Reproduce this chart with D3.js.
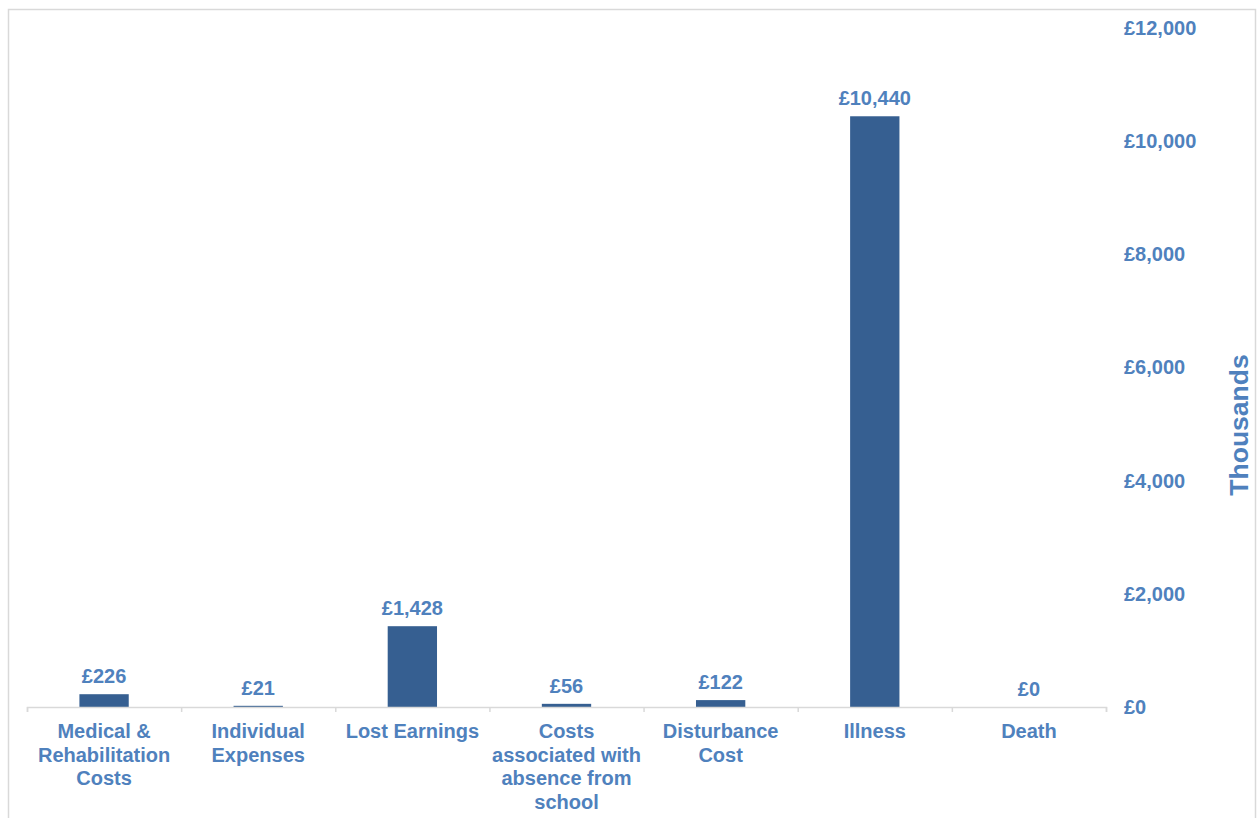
<!DOCTYPE html>
<html>
<head>
<meta charset="utf-8">
<script src="https://cdn.jsdelivr.net/npm/d3@7"></script>
<style>
	body { margin: 0; background: #fff; }
	svg { display: block; font-family: "Liberation Sans", Arial, sans-serif; font-weight: bold; }
</style>
</head>
<body>
<svg id="chart" width="1260" height="818"></svg>
<script>
// costs by category, in £ thousands
var categories = ["Medical &\nRehabilitation\nCosts", "Individual\nExpenses", "Lost Earnings",
	"Costs\nassociated with\nabsence from\nschool", "Disturbance\nCost", "Illness", "Death"];
var costs = [226, 21, 1428, 56, 122, 10440, 0];
var yTicks = [0, 2000, 4000, 6000, 8000, 10000, 12000];
var axisTitle = "Thousands";

(function() {
	var svg = d3.select("#chart");
	var labelColor = "#4f81bd", barColor = "#365f91", lineColor = "#d9d9d9";
	var left = 27, right = 1106, top = 28, bottom = 707;

	var fmt = function(d) { return "£" + d3.format(",")(d); };

	// outer frame
	svg.append("rect").attr("x", 8.5).attr("y", 9.5).attr("width", 1247).attr("height", 830)
		.attr("fill", "none").attr("stroke", lineColor).attr("stroke-width", 1.5);

	var x = d3.scaleBand().domain(categories).range([left, right])
		.paddingInner(0.68).paddingOuter(0.34);
	var y = d3.scaleLinear().domain([0, 12000]).range([bottom, top]);

	// bars
	svg.selectAll(".bar").data(costs).enter().append("rect").attr("class", "bar")
		.attr("x", function(d, i) { return x(categories[i]); })
		.attr("y", function(d) { return y(d); })
		.attr("width", x.bandwidth())
		.attr("height", function(d) { return bottom - y(d); })
		.attr("fill", barColor);

	// value labels
	svg.selectAll(".val").data(costs).enter().append("text").attr("class", "val")
		.attr("x", function(d, i) { return x(categories[i]) + x.bandwidth() / 2; })
		.attr("y", function(d) { return y(d) - 11; })
		.attr("text-anchor", "middle").attr("font-size", 20).attr("fill", labelColor)
		.text(fmt);

	// x axis with tick marks between categories
	var xb = d3.scaleLinear().domain([0, categories.length]).range([left, right]);
	var gx = svg.append("g").attr("transform", "translate(0," + bottom + ")")
		.call(d3.axisBottom(xb).ticks(categories.length).tickSizeInner(5).tickSizeOuter(5).tickFormat(""));
	gx.selectAll("path, line").attr("stroke", lineColor).attr("stroke-width", 1.5);

	// category labels
	svg.selectAll(".cat").data(categories).enter().append("text").attr("class", "cat")
		.attr("x", function(d) { return x(d) + x.bandwidth() / 2; })
		.attr("y", bottom + 31)
		.attr("text-anchor", "middle").attr("font-size", 20).attr("fill", labelColor)
		.each(function(d) {
			var t = d3.select(this);
			d.split("\n").forEach(function(line, i) {
				t.append("tspan").attr("x", t.attr("x")).attr("dy", i ? 23.5 : 0).text(line);
			});
		});

	// y axis on the right
	var gy = svg.append("g").attr("transform", "translate(1124,0)")
		.call(d3.axisRight(y).tickValues(yTicks).tickSize(0).tickPadding(0).tickFormat(fmt));
	gy.select(".domain").remove();
	gy.selectAll("text").attr("font-size", 20).attr("fill", labelColor)
		.attr("font-family", "Liberation Sans, Arial, sans-serif").attr("font-weight", "bold");

	svg.append("text").attr("transform", "translate(1248,425) rotate(-90)")
		.attr("text-anchor", "middle").attr("font-size", 26.5).attr("fill", labelColor)
		.text(axisTitle);
})();
</script>
</body>
</html>
